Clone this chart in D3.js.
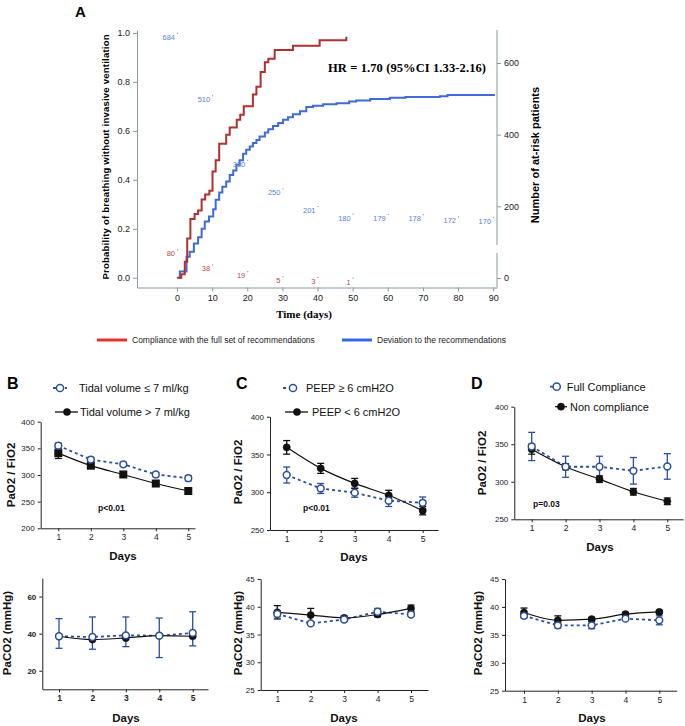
<!DOCTYPE html>
<html>
<head>
<meta charset="utf-8">
<script src="https://cdn.jsdelivr.net/npm/d3@7"></script>
<style>
  body { margin: 0; background: #fff; }
  text { font-family: "Liberation Sans", Arial, sans-serif; }
</style>
</head>
<body>
<script>
/*******************************/
/*            DATA             */
/*******************************/

// Panel A - Kaplan-Meier curves (time in days, probability)
const redTimes = [0, 1.2, 2.2, 2.9, 3.8, 5, 6, 7, 8, 9.2, 10.1, 11, 12, 14, 15, 17, 18, 19, 21.6, 22.6, 23.8, 25, 26, 27.8, 33, 40.6, 48.2];
const redProbs = [0, 0.014, 0.065, 0.16, 0.24, 0.26, 0.275, 0.32, 0.34, 0.355, 0.434, 0.48, 0.547, 0.584, 0.614, 0.645, 0.666, 0.70, 0.748, 0.78, 0.84, 0.88, 0.895, 0.93, 0.948, 0.97, 0.984];
const blueTimes = [0.5, 0.8, 2.7, 3.6, 4.8, 6, 7, 7.9, 9.1, 10.3, 11, 12, 12.9, 14, 15, 16, 16.9, 17.8, 18.8, 19.7, 20.7, 21.6, 22.6, 23.5, 25, 26, 27.3, 28.8, 30.2, 31.6, 33, 35, 36.8, 38.7, 41.6, 45.4, 49, 51, 55, 60.6, 65, 74.8, 77, 90.5];
const blueProbs = [0, 0.025, 0.086, 0.106, 0.14, 0.165, 0.2, 0.23, 0.25, 0.28, 0.318, 0.348, 0.372, 0.393, 0.42, 0.438, 0.461, 0.48, 0.506, 0.523, 0.536, 0.55, 0.563, 0.577, 0.593, 0.607, 0.62, 0.632, 0.645, 0.656, 0.668, 0.68, 0.697, 0.703, 0.709, 0.713, 0.72, 0.724, 0.73, 0.735, 0.738, 0.741, 0.746, 0.746];
const riskBlueTimes = [0, 10, 20, 30, 40, 50, 60, 70, 80, 90];
const riskBlue = [684, 510, 330, 250, 201, 180, 179, 178, 172, 170];
const riskRedTimes = [0, 10, 20, 30, 40, 50];
const riskRed = [80, 38, 19, 5, 3, 1];
const timeTicks = [0, 10, 20, 30, 40, 50, 60, 70, 80, 90];
const probTicks = [0, 0.2, 0.4, 0.6, 0.8, 1.0];
const riskTicks = [0, 200, 400, 600];

// Panels B-D - days 1..5
const days = [1, 2, 3, 4, 5];
// B: tidal volume
const bPfLe7 = [355, 329, 320, 301, 294];
const bPfLe7Err = [5, 4, 4, 4, 5];
const bPfGt7 = [341, 317.5, 301, 284, 270];
const bPfGt7Err = [10, 5, 5, 5, 5];
const bCoLe7 = [38.6, 38.2, 39.1, 38.9, 40.4];
const bCoLe7Lo = [32.1, 31.6, 33, 27.1, 33.4];
const bCoLe7Hi = [48.1, 49, 49, 48.4, 51.8];
const bCoGt7 = [38.6, 36.8, 37.7, 38.9, 38.6];
// C: PEEP
const cPfGe6 = [322.8, 305, 299.4, 288.8, 286];
const cPfGe6Err = [10.6, 6.6, 6, 7.7, 7.7];
const cPfLt6 = [359.4, 331.6, 311.7, 296, 275.6];
const cPfLt6Err = [9, 6.6, 6.6, 6.6, 5.5];
const cCoGe6 = [38.7, 37.0, 37.7, 39.1, 38.6];
const cCoGe6Err = [0.5, 0.3, 0.3, 0.6, 0.3];
const cCoLt6 = [39.0, 38.5, 38.0, 38.6, 39.7];
const cCoLt6Err = [1.2, 1.2, 0.3, 0.4, 0.6];
// D: compliance
const dPfFull = [347, 320, 320, 314.6, 320.4];
const dPfFullErr = [18.8, 14, 14, 17.7, 17];
const dPfNon = [343.4, 320, 303.5, 286.7, 274];
const dPfNonErr = [6.6, 4, 4.4, 4.4, 4.4];
const dCoFull = [38.4, 36.7, 36.7, 37.9, 37.6];
const dCoFullErr = [0.4, 0.5, 0.6, 0.3, 0.8];
const dCoNon = [39.0, 37.6, 37.8, 38.7, 39.1];
const dCoNonErr = [0.8, 0.8, 0.3, 0.3, 0.3];

const BLUE = "#2a4f9f";

const svg = d3.select("body").append("svg")
    .attr("width", 685)
    .attr("height", 726);

/*******************************/
/*   PANEL A - SURVIVAL PLOT   */
/*******************************/

const xA = d3.scaleLinear().domain([-11.4, 91.1]).range([137, 497]);
const yA = d3.scaleLinear().domain([-0.04, 1.012]).range([287.5, 30]);
const yR = d3.scaleLinear().domain([0, 600]).range([278, 63]);
const axisGray = "#8d9a9c";

const styleAxis = (g, col, size) => {
    g.selectAll("path, line").attr("stroke", col);
    g.selectAll("text").attr("fill", "#222").style("font-size", size + "px");
};

svg.append("g")
    .attr("transform", "translate(0,287.5)")
    .call(d3.axisBottom(xA).tickValues(timeTicks).tickSize(4).tickSizeOuter(0))
    .call(g => styleAxis(g, axisGray, 9));

svg.append("g")
    .attr("transform", "translate(137,0)")
    .call(d3.axisLeft(yA).tickValues(probTicks).tickFormat(d3.format(".1f")).tickSize(4).tickSizeOuter(0))
    .call(g => styleAxis(g, axisGray, 9));

// right axis with a break
const rAxis = svg.append("g")
    .attr("transform", "translate(497,0)")
    .call(d3.axisRight(yR).tickValues(riskTicks).tickSize(4).tickSizeOuter(0))
    .call(g => styleAxis(g, axisGray, 9));
rAxis.select(".domain").remove();
[[30, 245], [253, 287.5]].forEach(s => {
    rAxis.append("line").attr("y1", s[0]).attr("y2", s[1]).attr("stroke", axisGray);
});

const stepLine = d3.line()
    .x(d => xA(d[0]))
    .y(d => yA(d[1]))
    .curve(d3.curveStepAfter);

svg.append("path")
    .datum(blueTimes.map((t, i) => [t, blueProbs[i]]))
    .attr("d", stepLine)
    .attr("fill", "none")
    .attr("stroke", "#3f6ad8")
    .attr("stroke-width", 2);

svg.append("path")
    .datum(redTimes.map((t, i) => [t, redProbs[i]]))
    .attr("d", stepLine)
    .attr("fill", "none")
    .attr("stroke", "#b0302f")
    .attr("stroke-width", 2);

// numbers at risk
const riskLabels = (times, counts, col) => {
    const data = times.map((t, i) => ({ t: t, c: counts[i] }));
    svg.selectAll(null)
        .data(data)
        .enter()
        .append("text")
        .attr("x", d => xA(d.t) - 2)
        .attr("y", d => yR(d.c) + 7)
        .attr("text-anchor", "end")
        .attr("fill", col)
        .style("font-size", "7.5px")
        .text(d => d.c);
    svg.selectAll(null)
        .data(data)
        .enter()
        .append("rect")
        .attr("x", d => xA(d.t))
        .attr("y", d => yR(d.c))
        .attr("width", 1)
        .attr("height", 1)
        .attr("fill", col);
};
riskLabels(riskBlueTimes, riskBlue, "#5a7fd8");
riskLabels(riskRedTimes, riskRed, "#b84a4a");

svg.append("text")
    .attr("x", 328).attr("y", 72)
    .style("font-family", "'Liberation Serif', 'Times New Roman', serif")
    .style("font-weight", "bold")
    .style("font-size", "12.5px")
    .attr("textLength", 158)
    .text("HR = 1.70 (95%CI 1.33-2.16)");

svg.append("text")
    .attr("x", 304).attr("y", 318)
    .attr("text-anchor", "middle")
    .style("font-family", "'Liberation Serif', 'Times New Roman', serif")
    .style("font-weight", "bold")
    .style("font-size", "11px")
    .text("Time (days)");

svg.append("text")
    .attr("transform", "translate(109,157) rotate(-90)")
    .attr("text-anchor", "middle")
    .style("font-weight", "bold")
    .style("font-size", "9.5px")
    .attr("textLength", 245)
    .text("Probability of breathing without invasive ventilation");

svg.append("text")
    .attr("transform", "translate(539,155) rotate(-90)")
    .attr("text-anchor", "middle")
    .style("font-weight", "bold")
    .style("font-size", "11px")
    .text("Number of at-risk patients");

svg.append("text")
    .attr("x", 75).attr("y", 17)
    .style("font-weight", "bold")
    .style("font-size", "15px")
    .text("A");

// legend A
[[97, "#e8312a", "Compliance with the full set of recommendations"],
 [342, "#3366ee", "Deviation to the recommendations"]].forEach(l => {
    svg.append("line")
        .attr("x1", l[0]).attr("x2", l[0] + 30)
        .attr("y1", 340).attr("y2", 340)
        .attr("stroke", l[1]).attr("stroke-width", 3);
    svg.append("text")
        .attr("x", l[0] + 35).attr("y", 343)
        .attr("fill", "#222")
        .style("font-size", "8.5px")
        .text(l[2]);
});

/*******************************/
/*   PANELS B-D - LINE PLOTS   */
/*******************************/

const panel = (cfg) => {
    const g = svg.append("g");
    const x0 = d3.scaleLinear().domain([1, 5]).range([cfg.d1, cfg.d5]);
    const x = d3.scaleLinear()
        .domain([x0.invert(cfg.left), x0.invert(cfg.right)])
        .range([cfg.left, cfg.right]);
    const y = d3.scaleLinear().domain(cfg.yDomain).range([cfg.bottom, cfg.top]);
    const fw = cfg.boldTicks ? "bold" : "normal";

    g.append("g")
        .attr("transform", `translate(0,${cfg.bottom})`)
        .call(d3.axisBottom(x).tickValues(days).tickFormat(d3.format("d")).tickSize(3).tickSizeOuter(0))
        .call(a => styleAxis(a, "#222", 8.5))
        .selectAll("text").style("font-weight", fw);
    g.append("g")
        .attr("transform", `translate(${cfg.left},0)`)
        .call(d3.axisLeft(y).tickValues(cfg.yTicks).tickSize(3).tickSizeOuter(0))
        .call(a => styleAxis(a, "#222", 8))
        .selectAll("text").style("font-weight", fw);

    const lineLin = d3.line().x((d, i) => x(days[i])).y(d => y(d));
    const lineCurve = d3.line().x((d, i) => x(days[i])).y(d => y(d)).curve(d3.curveMonotoneX);

    // error bars
    cfg.series.forEach(s => {
        if (!s.lo) return;
        const col = s.open ? BLUE : "#111";
        days.forEach((dd, i) => {
            const cx = x(dd);
            g.append("line").attr("x1", cx).attr("x2", cx)
                .attr("y1", y(s.lo[i])).attr("y2", y(s.hi[i]))
                .attr("stroke", col).attr("stroke-width", 1.3);
            [s.lo[i], s.hi[i]].forEach(v => {
                g.append("line").attr("x1", cx - 3.5).attr("x2", cx + 3.5)
                    .attr("y1", y(v)).attr("y2", y(v))
                    .attr("stroke", col).attr("stroke-width", 1.3);
            });
        });
    });

    // lines
    cfg.series.forEach(s => {
        g.append("path")
            .datum(s.vals)
            .attr("d", s.open ? lineLin : lineCurve)
            .attr("fill", "none")
            .attr("stroke", s.open ? BLUE : "#111")
            .attr("stroke-width", s.open ? 1.8 : 1.2)
            .attr("stroke-dasharray", s.open ? "3,3" : null);
    });

    // markers (filled first, open on top)
    cfg.series.slice().sort((a, b) => (a.open ? 1 : 0) - (b.open ? 1 : 0)).forEach(s => {
        if (s.square) {
            g.selectAll(null).data(s.vals).enter().append("rect")
                .attr("x", (d, i) => x(days[i]) - 4)
                .attr("y", d => y(d) - 4)
                .attr("width", 8).attr("height", 8)
                .attr("fill", "#111");
        } else {
            g.selectAll(null).data(s.vals).enter().append("circle")
                .attr("cx", (d, i) => x(days[i]))
                .attr("cy", d => y(d))
                .attr("r", s.open ? 3.4 : 3.6)
                .attr("fill", s.open ? "#fff" : "#111")
                .attr("stroke", s.open ? BLUE : "#111")
                .attr("stroke-width", s.open ? 1.5 : 0.5);
        }
    });

    g.append("text")
        .attr("transform", `translate(${cfg.ylx},${cfg.ylcy}) rotate(-90)`)
        .attr("text-anchor", "middle")
        .style("font-weight", "bold")
        .style("font-size", "11.5px")
        .attr("fill", "#111")
        .text(cfg.ylabel);

    g.append("text")
        .attr("x", cfg.daysX).attr("y", cfg.daysY)
        .attr("text-anchor", "middle")
        .style("font-weight", "bold")
        .style("font-size", "11.5px")
        .attr("fill", "#111")
        .text("Days");

    if (cfg.p) {
        g.append("text")
            .attr("x", cfg.p[0]).attr("y", cfg.p[1])
            .style("font-weight", "bold")
            .style("font-size", "8.5px")
            .attr("fill", "#111")
            .text(cfg.p[2]);
    }

    if (cfg.letter) {
        g.append("text")
            .attr("x", cfg.letter[0]).attr("y", cfg.letter[1])
            .style("font-weight", "bold")
            .style("font-size", "16px")
            .text(cfg.letter[2]);
    }

    if (cfg.legend) {
        cfg.legend.forEach(l => {
            g.append("line")
                .attr("x1", l.x1).attr("x2", l.x2)
                .attr("y1", l.y).attr("y2", l.y)
                .attr("stroke", l.open ? BLUE : "#111")
                .attr("stroke-width", l.open ? 1.8 : 1.3)
                .attr("stroke-dasharray", l.open ? "3,3" : null);
            g.append("circle")
                .attr("cx", l.mx).attr("cy", l.y)
                .attr("r", 3.6)
                .attr("fill", l.open ? "#fff" : "#111")
                .attr("stroke", l.open ? BLUE : "#111")
                .attr("stroke-width", l.open ? 1.5 : 0.5);
            g.append("text")
                .attr("x", l.tx).attr("y", l.y + 4)
                .style("font-size", "11px")
                .attr("fill", "#111")
                .text(l.text);
        });
    }
};

const withErr = (vals, err, open, square) => ({
    vals: vals,
    lo: vals.map((v, i) => v - err[i]),
    hi: vals.map((v, i) => v + err[i]),
    open: open,
    square: square
});

// B top
panel({
    left: 40.7, right: 195, d1: 58.3, d5: 188.3,
    bottom: 528.3, top: 421.7, yDomain: [200, 400], yTicks: [200, 250, 300, 350, 400],
    ylabel: "PaO2 / FiO2", ylx: 15, ylcy: 475, daysX: 123, daysY: 560,
    p: [98, 511, "p<0.01"], letter: [7, 389, "B"],
    series: [withErr(bPfLe7, bPfLe7Err, true), withErr(bPfGt7, bPfGt7Err, false, true)],
    legend: [
        { open: true, x1: 53, x2: 67, mx: 60, y: 388, tx: 79, text: "Tidal volume \u2264 7 ml/kg" },
        { open: false, x1: 55, x2: 78, mx: 67, y: 412, tx: 80, text: "Tidal volume > 7 ml/kg" }
    ]
});
// B bottom
panel({
    left: 42.3, right: 208, d1: 59, d5: 192.7,
    bottom: 689.3, top: 578, yDomain: [10, 70], yTicks: [20, 40, 60], boldTicks: true,
    ylabel: "PaCO2 (mmHg)", ylx: 11, ylcy: 633, daysX: 126, daysY: 722,
    series: [{ vals: bCoLe7, lo: bCoLe7Lo, hi: bCoLe7Hi, open: true }, { vals: bCoGt7, open: false }]
});
// C top
panel({
    left: 270, right: 438, d1: 286.7, d5: 422.7,
    bottom: 530, top: 416.7, yDomain: [250, 400], yTicks: [250, 300, 350, 400],
    ylabel: "PaO2 / FiO2", ylx: 242, ylcy: 472, daysX: 354, daysY: 561,
    p: [303, 511, "p<0.01"], letter: [236, 389, "C"],
    series: [withErr(cPfGe6, cPfGe6Err, true), withErr(cPfLt6, cPfLt6Err, false)],
    legend: [
        { open: true, x1: 283, x2: 297, mx: 293, y: 388, tx: 306, text: "PEEP \u2265 6 cmH2O" },
        { open: false, x1: 285, x2: 308, mx: 297, y: 412, tx: 312, text: "PEEP < 6 cmH2O" }
    ]
});
// C bottom
panel({
    left: 260.7, right: 428, d1: 277.3, d5: 411,
    bottom: 690, top: 579, yDomain: [25, 45], yTicks: [25, 30, 35, 40, 45],
    ylabel: "PaCO2 (mmHg)", ylx: 242, ylcy: 633, daysX: 344, daysY: 722,
    series: [withErr(cCoGe6, cCoGe6Err, true), withErr(cCoLt6, cCoLt6Err, false)]
});
// D top
panel({
    left: 514.3, right: 683, d1: 531.7, d5: 667.3,
    bottom: 519.3, top: 406.7, yDomain: [250, 400], yTicks: [250, 300, 350, 400],
    ylabel: "PaO2 / FiO2", ylx: 486, ylcy: 463, daysX: 600, daysY: 551,
    p: [533, 507, "p=0.03"], letter: [471, 389, "D"],
    series: [withErr(dPfFull, dPfFullErr, true), withErr(dPfNon, dPfNonErr, false)],
    legend: [
        { open: true, x1: 550, x2: 562, mx: 556.7, y: 386.7, tx: 566.7, text: "Full Compliance" },
        { open: false, x1: 555, x2: 567, mx: 561, y: 406.7, tx: 570, text: "Non compliance" }
    ]
});
// D bottom
panel({
    left: 505, right: 676.7, d1: 524, d5: 659.3,
    bottom: 690.7, top: 579, yDomain: [25, 45], yTicks: [25, 30, 35, 40, 45],
    ylabel: "PaCO2 (mmHg)", ylx: 482, ylcy: 633, daysX: 592, daysY: 722,
    series: [withErr(dCoFull, dCoFullErr, true), withErr(dCoNon, dCoNonErr, false)]
});
</script>
</body>
</html>
